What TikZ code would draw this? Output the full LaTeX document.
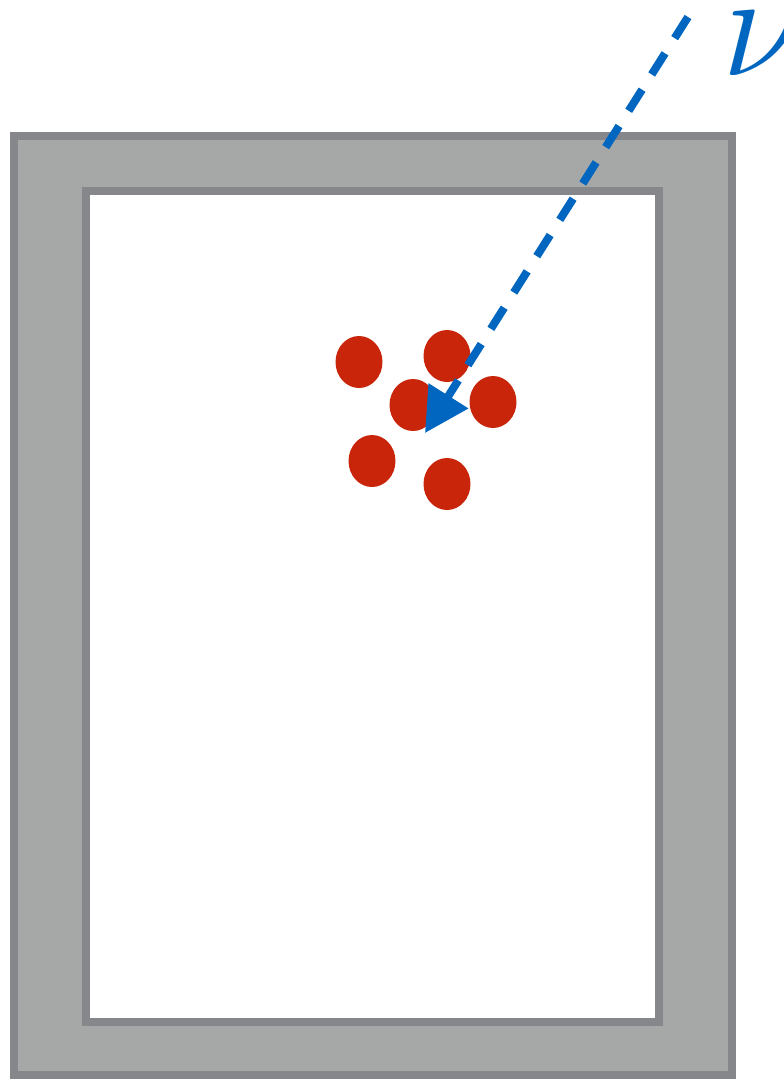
\documentclass[tikz,border=0pt]{standalone}
\usepackage{tikz}
\usetikzlibrary{positioning}
\usetikzlibrary{shapes.geometric}
\usetikzlibrary{arrows.meta}

\definecolor{wallfill}{HTML}{A5A8A7}
\definecolor{walledge}{HTML}{85878B}
\definecolor{nublue}{HTML}{0066C0}
\definecolor{dotred}{HTML}{C8250A}

\begin{document}
\begin{tikzpicture}[
        x = 0.02cm, y = -0.02cm, % one unit is one pixel, y down
        wall/.style = {fill=wallfill, draw=walledge, line width=0.16cm},
        dot/.style = {ellipse, fill=dotred, inner sep=0pt,
                      minimum width=0.94cm, minimum height=1.04cm},
        beam/.style = {nublue, line width=0.16cm,
                       dash pattern=on 0.5cm off 0.36cm,
                       -{Triangle[length=0.88cm, width=0.9cm]}}
        ]

  \useasboundingbox (0,0) rectangle (784,1079);

  % detector walls
  \draw[wall] (14,136) rectangle (732,1075);
  \draw[wall, fill=white] (86,191) rectangle (659,1022);

  % the cluster
  \node[dot] (p1) at (359,362) {};
  \node[dot] (p2) at (447,356) {};
  \node[dot] (p3) at (413,405) {};
  \node[dot] (p4) at (493,402) {};
  \node[dot] (p5) at (372,461) {};
  \node[dot] (p6) at (447,484) {};

  % incoming neutrino
  \coordinate (src) at (688,17);
  \coordinate (tip) at (425,433);
  \node[anchor=west, inner sep=0pt, text=nublue] (nu) at (722,44)
        {\scalebox{3.4}{\Huge$\nu$}};

  \draw[beam] (src) -- (tip);

\end{tikzpicture}
\end{document}
